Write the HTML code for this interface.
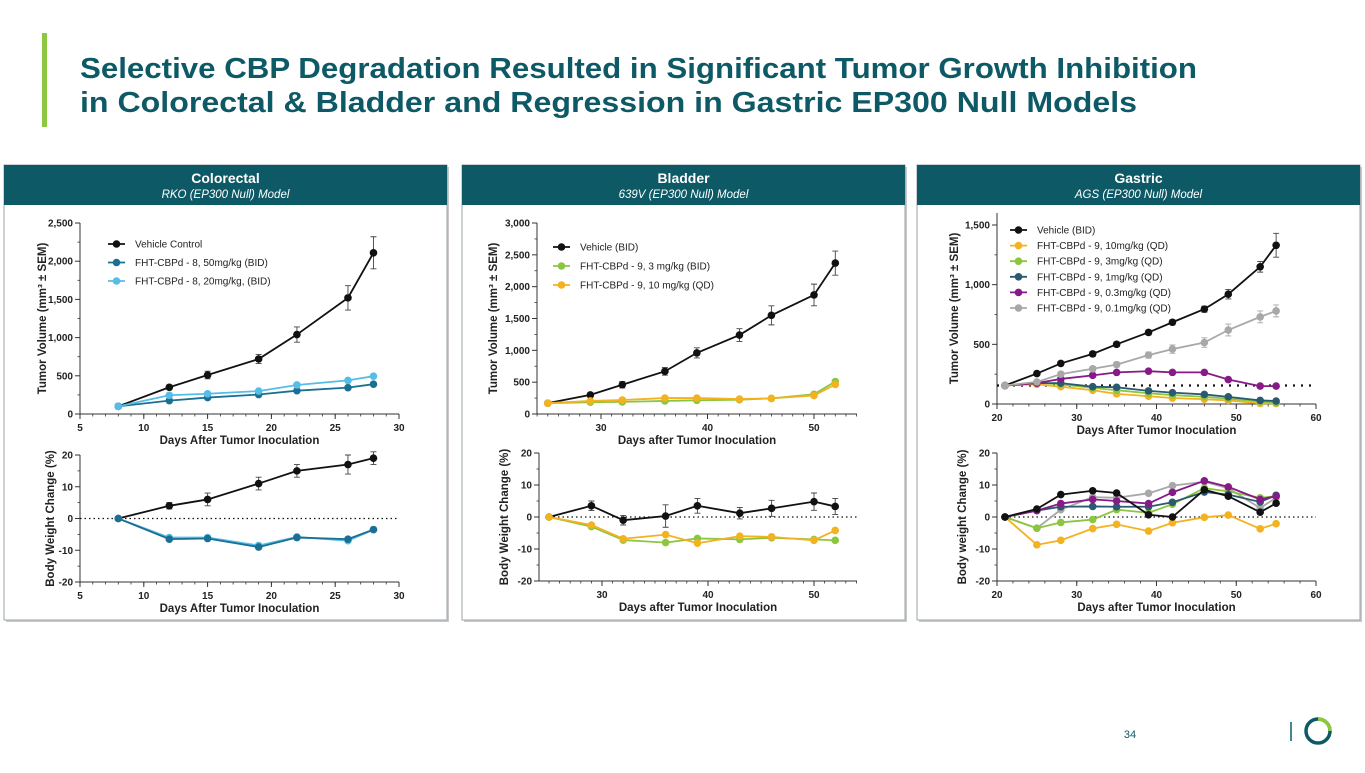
<!DOCTYPE html>
<html><head><meta charset="utf-8"><style>
html,body{margin:0;padding:0;background:#fff;}
body{width:1365px;height:768px;overflow:hidden;font-family:"Liberation Sans",Arial,sans-serif;}
svg text{font-family:"Liberation Sans",Arial,sans-serif;}
</style></head><body>
<svg id="s" width="1365" height="768" viewBox="0 0 1365 768" xmlns="http://www.w3.org/2000/svg">
<rect x="42" y="33" width="5" height="94" fill="#8dc63f"/>
<text x="80" y="78" font-size="28.5" font-weight="bold" fill="#0d5a66" textLength="1117" lengthAdjust="spacingAndGlyphs">Selective CBP Degradation Resulted in Significant Tumor Growth Inhibition</text>
<text x="80" y="112" font-size="28.5" font-weight="bold" fill="#0d5a66" textLength="1057" lengthAdjust="spacingAndGlyphs">in Colorectal &amp; Bladder and Regression in Gastric EP300 Null Models</text>
<text x="1130" y="738" font-size="11" fill="#0d5a66" text-anchor="middle">34</text>
<line x1="1291" y1="722" x2="1291" y2="741" stroke="#0d5a66" stroke-width="1.5"/>
<g>
<circle cx="1318" cy="731" r="12" fill="none" stroke="#0d5a66" stroke-width="3.5"/>
<path d="M1318 719 A12 12 0 0 1 1330 731" fill="none" stroke="#8dc63f" stroke-width="3.5"/>
</g>
<g id="charts"></g>
</svg>
<script>
// ---------- data ----------
const crDays = [8,12,15,19,22,26,28];
const crVeh = [100,350,510,720,1040,1520,2110];
const crVehErr = [20,30,50,60,100,160,210];
const cr50 = [100,175,215,255,305,345,390];
const cr20 = [100,245,265,300,380,440,495];
const crBwVeh = [0,4,6,11,15,17,19];
const crBwVehErr = [0,1,2,2,2,3,2];
const crBw50 = [0,-6.5,-6.3,-9,-6,-6.5,-3.5];
const crBw20 = [0,-6,-6,-8.5,-5.8,-7,-3.5];

const blDays = [25,29,32,36,39,43,46,50,52];
const blVeh = [170,300,460,670,960,1240,1550,1870,2370];
const blVehErr = [20,30,50,60,80,100,150,170,190];
const bl3 = [170,185,190,205,215,225,245,310,510];
const bl10 = [170,205,220,250,250,235,245,290,465];
const blBwVeh = [0,3.5,-1,0.3,3.5,1.2,2.7,4.8,3.3];
const blBwVehErr = [0,1.5,1.5,3.5,2.3,1.8,2.5,2.7,2.5];
const blBw3 = [0,-3,-7.2,-8,-6.7,-7,-6.5,-7,-7.3];
const blBw10 = [0,-2.5,-6.8,-5.5,-8.2,-6,-6.2,-7.3,-4.2];

const gaDays = [21,25,28,32,35,39,42,46,49,53,55];
const gaVeh = [155,255,340,420,500,600,685,795,920,1150,1330];
const gaVehErr = [10,15,15,20,20,20,20,25,40,45,100];
const ga10 = [155,165,145,115,85,65,50,40,30,5,5];
const ga3 = [155,180,165,135,115,90,75,60,45,20,10];
const ga1 = [155,175,175,145,140,110,95,80,60,30,25];
const ga03 = [155,175,210,240,265,275,265,265,205,150,150];
const ga01 = [155,185,250,295,330,410,460,515,620,730,780];
const ga01Err = [10,15,20,20,20,25,35,40,50,50,50];
const gaBwVeh = [0,2.5,7,8.2,7.5,0.7,0,8.5,6.5,1.5,4.3];
const gaBw10 = [0,-8.7,-7.3,-3.6,-2.3,-4.4,-1.8,-0.1,0.6,-3.7,-2.1];
const gaBw3 = [0,-3.5,-1.7,-0.8,2.3,1.3,4,9,8,6,6.5];
const gaBw1 = [0,2,3.2,3.3,3.2,3.2,4.6,7.8,7,4.7,6.8];
const gaBw03 = [0,2,4.2,5.5,5,4.2,7.7,11.3,9.4,5.5,6.5];
const gaBw01 = [0,-3.5,2.3,6.2,6,7.4,9.8,11,9,2.8,6];

const crXTicks = [5,10,15,20,25,30];
const crYTicks = [0,500,1000,1500,2000,2500];
const crYLabels = ["0","500","1,000","1,500","2,000","2,500"];
const blXTicks = [30,40,50];
const blYTicks = [0,500,1000,1500,2000,2500,3000];
const blYLabels = ["0","500","1,000","1,500","2,000","2,500","3,000"];
const gaXTicks = [20,30,40,50,60];
const gaYTicks = [0,500,1000,1500];
const gaYLabels = ["0","500","1,000","1,500"];
const bwTicks = [-20,-10,0,10,20];
const bwLabels = ["-20","-10","0","10","20"];

// ---------- drawing ----------
const NS = "http://www.w3.org/2000/svg";
const root = document.getElementById('charts');
function mk(tag, attrs, parent){
  const e = document.createElementNS(NS, tag);
  for (const k in attrs) e.setAttribute(k, attrs[k]);
  (parent||root).appendChild(e);
  return e;
}
function panel(x, w, title, sub, name){
  const g = mk('g', {});
  
  
  mk('rect', {x:x+2, y:167, width:w, height:455, fill:'#c8c8c8'}, g);
  const box = mk('rect', {x:x, y:165, width:w, height:455, fill:'#fff', stroke:'#9aa5a8', 'stroke-width':1}, g);
  
  
  const hb = mk('rect', {x:x, y:165, width:w, height:40, fill:'#0d5a66'}, g);
  
  
  const t = mk('text', {x:x+w/2, y:183, 'font-size':14, 'font-weight':'bold', fill:'#fff', 'text-anchor':'middle'}, g);
  t.textContent = title;
  
  
  const s = mk('text', {x:x+w/2, y:198, 'font-size':11.5, 'font-style':'italic', fill:'#fff', 'text-anchor':'middle'}, g);
  s.textContent = sub;
  
  
}
panel(4, 443, 'Colorectal', 'RKO (EP300 Null) Model', 'colorectal-panel');
panel(462, 443, 'Bladder', '639V (EP300 Null) Model', 'bladder-panel');
panel(917, 443, 'Gastric', 'AGS (EP300 Null) Model', 'gastric-panel');

function chart(o){
  const g = mk('g', {});
  
  
  const sx = v => o.px0 + (v - o.x0) * (o.px1 - o.px0) / (o.x1 - o.x0);
  const sy = v => o.py0 + (v - o.y0) * (o.py1 - o.py0) / (o.y1 - o.y0);
  const ax = mk('line', {x1:o.axL, y1:o.py0, x2:o.axR, y2:o.py0, stroke:'#333', 'stroke-width':1}, g);
  
  
  const ay = mk('line', {x1:o.axL, y1:o.py0, x2:o.axL, y2:o.axT, stroke:'#333', 'stroke-width':1}, g);
  
  
  for (let d = Math.ceil(o.xMinorStart); sx(d) <= o.axR + 0.5; d += o.xMinor){
    if (sx(d) < o.axL - 0.5) continue;
    mk('line', {x1:sx(d), y1:o.py0, x2:sx(d), y2:o.py0+2.5, stroke:'#333', 'stroke-width':0.8}, g);
  }
  o.xTicks.forEach(t => {
    mk('line', {x1:sx(t), y1:o.py0, x2:sx(t), y2:o.py0+5, stroke:'#333', 'stroke-width':1}, g);
    const tx = mk('text', {x:sx(t), y:o.py0+17, 'font-size':10, 'font-weight':'bold', fill:'#222', 'text-anchor':'middle'}, g);
    tx.textContent = t;
    
    
  });
  for (let i = 0; i < o.yTicks.length - 1; i++){
    const m = (o.yTicks[i] + o.yTicks[i+1]) / 2;
    mk('line', {x1:o.axL-2.5, y1:sy(m), x2:o.axL, y2:sy(m), stroke:'#333', 'stroke-width':0.8}, g);
  }
  o.yTicks.forEach((t, i) => {
    mk('line', {x1:o.axL-5, y1:sy(t), x2:o.axL, y2:sy(t), stroke:'#333', 'stroke-width':1}, g);
    const ty = mk('text', {x:o.axL-7, y:sy(t)+3.5, 'font-size':10, 'font-weight':'bold', fill:'#222', 'text-anchor':'end'}, g);
    ty.textContent = o.yLabels[i];
    
    
  });
  const xt = mk('text', {x:(o.axL+o.axR)/2, y:o.py0+30, 'font-size':11.5, 'font-weight':'bold', fill:'#222', 'text-anchor':'middle'}, g);
  xt.textContent = o.xTitle;
  
  
  const yc = (o.py0 + o.axT) / 2;
  const yt = mk('text', {x:o.yTitleX, y:yc, 'font-size':11.5, 'font-weight':'bold', fill:'#222', 'text-anchor':'middle', transform:`rotate(-90 ${o.yTitleX} ${yc})`}, g);
  yt.textContent = o.yTitle;
  
  
  if (o.refY !== undefined){
    const rl = mk('line', {x1:sx(o.refX0), y1:sy(o.refY), x2:o.refX1px, y2:sy(o.refY), stroke:'#111', 'stroke-width':o.refW||1.2, 'stroke-dasharray':o.refDash||'1.5 3'}, g);
    
    
  }
  o.series.forEach(s => {
    const sg = mk('g', {}, g);
    
    
    const pts = o.days.map((d, i) => sx(d) + ',' + sy(s.vals[i])).join(' ');
    mk('polyline', {points:pts, fill:'none', stroke:s.color, 'stroke-width':1.8}, sg);
    o.days.forEach((d, i) => {
      const e = s.err ? s.err[i] : 0;
      if (e > 0){
        const x = sx(d), y1 = sy(s.vals[i] - e), y2 = sy(s.vals[i] + e);
        mk('path', {d:`M${x} ${y1}V${y2}M${x-3} ${y1}H${x+3}M${x-3} ${y2}H${x+3}`, stroke:s.errColor||s.color, 'stroke-width':0.9, fill:'none'}, sg);
      }
      mk('circle', {cx:sx(d), cy:sy(s.vals[i]), r:3.8, fill:s.color}, sg);
    });
  });
  if (o.legend){
    o.series.forEach((s, i) => {
      const lg = mk('g', {}, g);
      
      
      const y = o.legend.y + i * o.legend.dy;
      mk('line', {x1:o.legend.x, y1:y, x2:o.legend.x+17, y2:y, stroke:s.color, 'stroke-width':1.8}, lg);
      mk('circle', {cx:o.legend.x+8.5, cy:y, r:3.8, fill:s.color}, lg);
      const t = mk('text', {x:o.legend.x+27, y:y+3.5, 'font-size':10, fill:'#222'}, lg);
      t.textContent = s.label;
    });
  }
}
const K='#111', B50='#1b6f92', B20='#55bde6', GR='#8cc63f', OR='#f4b120', SL='#2a5a70', PU='#871a86', GY='#a8a8a8';

chart({name:'colorectal-tumor-volume-chart', days:crDays, x0:5, x1:30, px0:80, px1:399, axL:80, axR:399, y0:0, y1:2500, py0:414, py1:223, axT:223,
  xMinor:1, xMinorStart:5, xTicks:crXTicks, yTicks:crYTicks, yLabels:crYLabels,
  xTitle:'Days After Tumor Inoculation', yTitle:'Tumor Volume (mm³ ± SEM)', yTitleX:46,
  legend:{x:108, y:244, dy:18.5},
  series:[{name:'vehicle-control-series', label:'Vehicle Control', vals:crVeh, err:crVehErr, color:K, errColor:'#444'},
          {name:'fht-50mg-series', label:'FHT-CBPd - 8, 50mg/kg (BID)', vals:cr50, color:B50},
          {name:'fht-20mg-series', label:'FHT-CBPd - 8, 20mg/kg, (BID)', vals:cr20, color:B20}]});
chart({name:'colorectal-body-weight-chart', days:crDays, x0:5, x1:30, px0:80, px1:399, axL:80, axR:399, y0:-20, y1:20, py0:582, py1:455, axT:455,
  xMinor:1, xMinorStart:5, xTicks:crXTicks, yTicks:bwTicks, yLabels:bwLabels,
  xTitle:'Days After Tumor Inoculation', yTitle:'Body Weight Change (%)', yTitleX:54,
  refY:0, refX0:5, refX1px:399,
  series:[{name:'vehicle-control-bw-series', vals:crBwVeh, err:crBwVehErr, color:K, errColor:'#444'},
          {name:'fht-20mg-bw-series', vals:crBw20, color:B20},
          {name:'fht-50mg-bw-series', vals:crBw50, color:B50}]});

chart({name:'bladder-tumor-volume-chart', days:blDays, x0:30, x1:50, px0:601, px1:814, axL:537, axR:857, y0:0, y1:3000, py0:414, py1:223, axT:223,
  xMinor:1, xMinorStart:24, xTicks:blXTicks, yTicks:blYTicks, yLabels:blYLabels,
  xTitle:'Days after Tumor Inoculation', yTitle:'Tumor Volume (mm³ ± SEM)', yTitleX:497,
  legend:{x:553, y:247, dy:19},
  series:[{name:'vehicle-bid-series', label:'Vehicle (BID)', vals:blVeh, err:blVehErr, color:K, errColor:'#444'},
          {name:'fht-3mg-bid-series', label:'FHT-CBPd - 9, 3 mg/kg (BID)', vals:bl3, color:GR},
          {name:'fht-10mg-qd-series', label:'FHT-CBPd - 9, 10 mg/kg (QD)', vals:bl10, color:OR}]});
chart({name:'bladder-body-weight-chart', days:blDays, x0:30, x1:50, px0:602, px1:814, axL:539, axR:857, y0:-20, y1:20, py0:581, py1:453, axT:453,
  xMinor:1, xMinorStart:24, xTicks:blXTicks, yTicks:bwTicks, yLabels:bwLabels,
  xTitle:'Days after Tumor Inoculation', yTitle:'Body Weight Change  (%)', yTitleX:508,
  refY:0, refX0:25, refX1px:857,
  series:[{name:'vehicle-bid-bw-series', vals:blBwVeh, err:blBwVehErr, color:K, errColor:'#444'},
          {name:'fht-3mg-bw-series', vals:blBw3, color:GR},
          {name:'fht-10mg-bw-series', vals:blBw10, color:OR}]});

chart({name:'gastric-tumor-volume-chart', days:gaDays, x0:20, x1:60, px0:997, px1:1316, axL:997, axR:1316, y0:0, y1:1500, py0:404, py1:225, axT:213,
  xMinor:2, xMinorStart:20, xTicks:gaXTicks, yTicks:gaYTicks, yLabels:gaYLabels,
  xTitle:'Days After Tumor Inoculation', yTitle:'Tumor Volume (mm³ ± SEM)', yTitleX:958,
  refY:155, refX0:20, refX1px:1312, refW:2.2, refDash:'2 6',
  legend:{x:1010, y:230, dy:15.6},
  series:[{name:'vehicle-bid-series', label:'Vehicle (BID)', vals:gaVeh, err:gaVehErr, color:K, errColor:'#444'},
          {name:'fht-10mg-qd-series', label:'FHT-CBPd - 9, 10mg/kg (QD)', vals:ga10, color:OR},
          {name:'fht-3mg-qd-series', label:'FHT-CBPd - 9, 3mg/kg (QD)', vals:ga3, color:GR},
          {name:'fht-1mg-qd-series', label:'FHT-CBPd - 9, 1mg/kg (QD)', vals:ga1, color:SL},
          {name:'fht-0-3mg-qd-series', label:'FHT-CBPd - 9, 0.3mg/kg (QD)', vals:ga03, color:PU},
          {name:'fht-0-1mg-qd-series', label:'FHT-CBPd - 9, 0.1mg/kg (QD)', vals:ga01, err:ga01Err, color:GY}]});
chart({name:'gastric-body-weight-chart', days:gaDays, x0:20, x1:60, px0:997, px1:1316, axL:997, axR:1316, y0:-20, y1:20, py0:581, py1:453, axT:453,
  xMinor:2, xMinorStart:20, xTicks:gaXTicks, yTicks:bwTicks, yLabels:bwLabels,
  xTitle:'Days after Tumor Inoculation', yTitle:'Body weight Change (%)', yTitleX:966,
  refY:0, refX0:21, refX1px:1316,
  series:[{name:'fht-0-1mg-bw-series', vals:gaBw01, color:GY},
          {name:'fht-10mg-bw-series', vals:gaBw10, color:OR},
          {name:'fht-3mg-bw-series', vals:gaBw3, color:GR},
          {name:'fht-1mg-bw-series', vals:gaBw1, color:SL},
          {name:'fht-0-3mg-bw-series', vals:gaBw03, color:PU},
          {name:'vehicle-bid-bw-series', vals:gaBwVeh, color:K}]});
</script>
</body></html>
